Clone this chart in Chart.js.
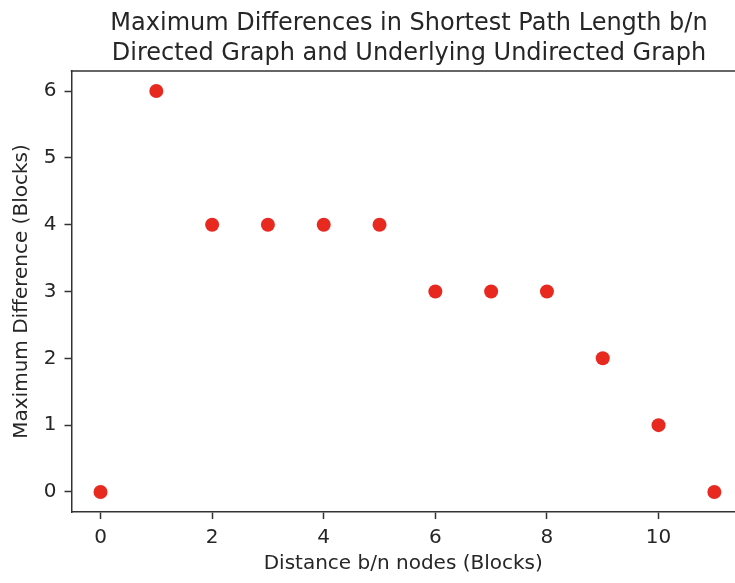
<!DOCTYPE html>
<html>
<head>
<meta charset="utf-8">
<script src="https://cdn.jsdelivr.net/npm/chart.js@4.4.1/dist/chart.umd.min.js"></script>
<style>
  html, body { margin: 0; padding: 0; background: #ffffff; }
  #wrap { width: 735px; height: 583px; }
</style>
</head>
<body>
<div id="wrap"><canvas id="c" width="735" height="583"></canvas></div>
<script>
// ---- data ----
const distances = [0, 1, 2, 3, 4, 5, 6, 7, 8, 9, 10, 11];
const maxDifferences = [0, 6, 4, 4, 4, 4, 3, 3, 3, 2, 1, 0];
const xTickValues = [0, 2, 4, 6, 8, 10];
const yTickValues = [0, 1, 2, 3, 4, 5, 6];
const titleLines = ["Maximum Differences in Shortest Path Length b/n", "Directed Graph and Underlying Undirected Graph"];
const xLabel = "Distance b/n nodes (Blocks)";
const yLabel = "Maximum Difference (Blocks)";

const FONT = "'DejaVu Sans', sans-serif";
const TEXT = '#262626';
const SPINE = '#333333';

const points = distances.map((d, i) => ({ x: d, y: maxDifferences[i] }));

const frame = {
  id: 'frame',
  afterDraw(chart) {
    const { ctx, chartArea } = chart;
    ctx.save();
    // top spine
    ctx.strokeStyle = SPINE;
    ctx.lineWidth = 1.5;
    ctx.beginPath();
    ctx.moveTo(chartArea.left - 0.75, chartArea.top);
    ctx.lineTo(chartArea.right, chartArea.top);
    ctx.stroke();
    // title centred over the (uncropped) axes
    ctx.fillStyle = TEXT;
    ctx.font = "24px " + FONT;
    ctx.textAlign = 'center';
    ctx.textBaseline = 'alphabetic';
    const cx = 409;
    ctx.fillText(titleLines[0], cx, 30);
    ctx.fillText(titleLines[1], cx, 59.5);
    ctx.restore();
  }
};

new Chart(document.getElementById('c'), {
  type: 'scatter',
  data: {
    datasets: [{
      data: points,
      backgroundColor: '#e8291f',
      borderColor: '#e8291f',
      borderWidth: 0,
      pointRadius: 7,
      pointHoverRadius: 7,
      clip: false
    }]
  },
  options: {
    responsive: false,
    animation: false,
    events: [],
    layout: { padding: { top: 71, right: 0, left: 0, bottom: 0 }, autoPadding: false },
    plugins: {
      legend: { display: false },
      title: { display: false },
      tooltip: { enabled: false }
    },
    scales: {
      x: {
        type: 'linear',
        min: -0.52,
        max: 11.37,
        afterBuildTicks(scale) { scale.ticks = xTickValues.map(v => ({ value: v })); },
        afterFit(scale) { scale.height = 71; },
        ticks: {
          color: TEXT,
          font: { family: FONT, size: 20 },
          padding: 7,
          maxRotation: 0,
          autoSkip: false
        },
        grid: {
          display: true,
          drawOnChartArea: false,
          drawTicks: true,
          tickLength: 7,
          tickColor: SPINE,
          tickWidth: 1.5
        },
        border: { display: true, color: SPINE, width: 1.5 },
        title: {
          display: true,
          text: xLabel,
          color: TEXT,
          font: { family: FONT, size: 20 },
          padding: { top: 0, bottom: 7 }
        }
      },
      y: {
        type: 'linear',
        min: -0.3,
        max: 6.3,
        afterBuildTicks(scale) { scale.ticks = yTickValues.map(v => ({ value: v })); },
        afterFit(scale) { scale.width = 71.5; },
        ticks: {
          color: TEXT,
          font: { family: FONT, size: 20 },
          padding: 8,
          autoSkip: false
        },
        grid: {
          display: true,
          drawOnChartArea: false,
          drawTicks: true,
          tickLength: 7,
          tickColor: SPINE,
          tickWidth: 1.5
        },
        border: { display: true, color: SPINE, width: 1.5 },
        title: {
          display: true,
          text: yLabel,
          color: TEXT,
          font: { family: FONT, size: 20 },
          padding: { top: 10, bottom: 0 }
        }
      }
    }
  },
  plugins: [frame]
});
</script>
</body>
</html>
